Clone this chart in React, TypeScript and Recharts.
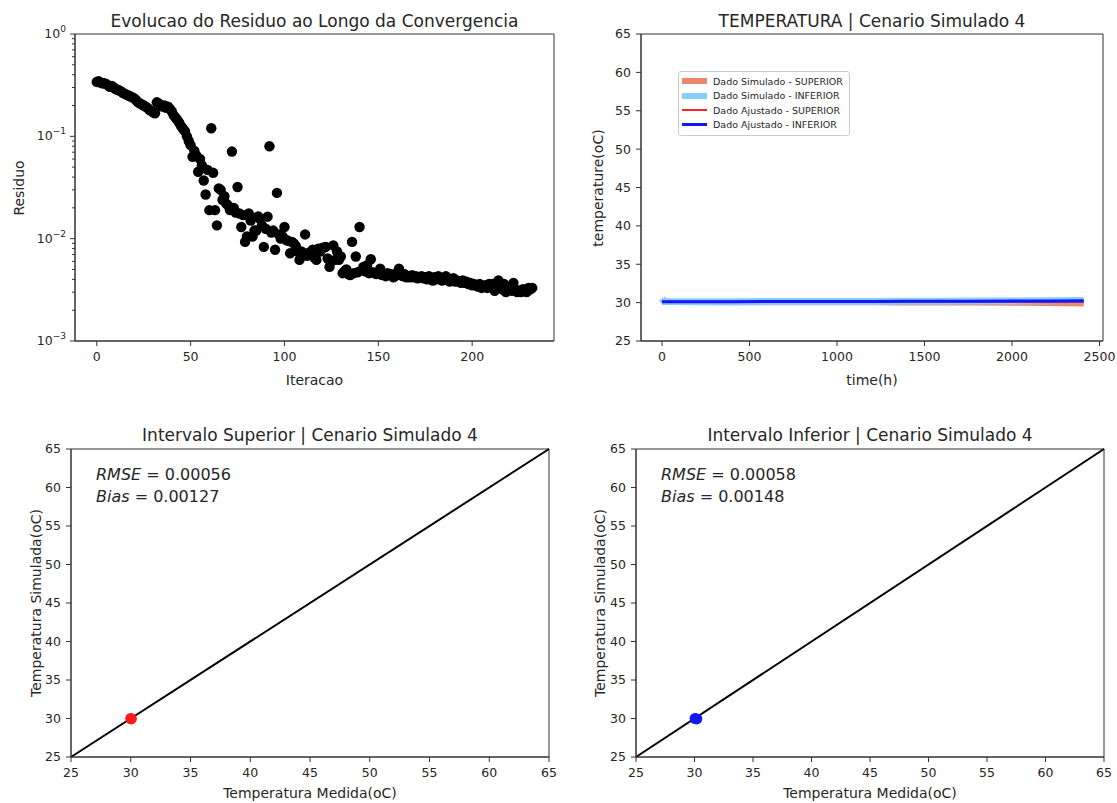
import {
  Legend,
  Line,
  LineChart,
  ReferenceArea,
  ReferenceLine,
  Scatter,
  ScatterChart,
  XAxis,
  YAxis,
} from "recharts";

const FONT = "'DejaVu Sans', 'Liberation Sans', sans-serif";
const INK = "#262626";
const AXIS = "#333333";

// residual per iteration (iteration 0 .. 232)
const residuals = [
  0.34, 0.345, 0.335, 0.33, 0.33, 0.325, 0.315, 0.305, 0.31, 0.3, 0.29,
  0.285, 0.28, 0.275, 0.265, 0.26, 0.255, 0.25, 0.245, 0.24, 0.235,
  0.225, 0.215, 0.21, 0.205, 0.2, 0.195, 0.19, 0.182, 0.178, 0.172,
  0.168, 0.215, 0.21, 0.2, 0.195, 0.2, 0.19, 0.195, 0.185, 0.175,
  0.16, 0.152, 0.144, 0.135, 0.125, 0.118, 0.112, 0.1, 0.09, 0.082,
  0.063, 0.072, 0.065, 0.045, 0.06, 0.052, 0.037, 0.027, 0.047, 0.019,
  0.12, 0.044, 0.019, 0.0135, 0.031, 0.03, 0.024, 0.026, 0.022, 0.021,
  0.019, 0.071, 0.02, 0.018, 0.032, 0.0176, 0.013, 0.017, 0.0093, 0.0105,
  0.0176, 0.015, 0.0105, 0.012, 0.012, 0.0165, 0.0155, 0.0135, 0.0083, 0.0125,
  0.0164, 0.08, 0.0115, 0.012, 0.0078, 0.028, 0.011, 0.01, 0.0105, 0.013,
  0.0097, 0.0095, 0.0072, 0.0093, 0.009, 0.0085, 0.0075, 0.0062, 0.0075, 0.0072,
  0.011, 0.0068, 0.0073, 0.007, 0.0078, 0.0065, 0.0062, 0.008, 0.0075, 0.0081,
  0.0082, 0.0083, 0.0064, 0.0053, 0.006, 0.0086, 0.0062, 0.0075, 0.0062, 0.0067,
  0.0046, 0.0048, 0.005, 0.0045, 0.0044, 0.0093, 0.0046, 0.0067, 0.0047, 0.013,
  0.0049, 0.0053, 0.0048, 0.0055, 0.0046, 0.0063, 0.0047, 0.0046, 0.0045, 0.0046,
  0.0051, 0.0044, 0.0045, 0.0043, 0.0046, 0.0044, 0.0045, 0.0042, 0.0043, 0.0046,
  0.0051, 0.0044, 0.0043, 0.0045, 0.0042, 0.0043, 0.0042, 0.0044, 0.0042, 0.0043,
  0.0041, 0.0042, 0.0043, 0.0041, 0.0042, 0.004, 0.0043, 0.0041, 0.0039, 0.0042,
  0.004, 0.0043, 0.0041, 0.0039, 0.004, 0.0043, 0.004, 0.0038, 0.0039, 0.0041,
  0.0038, 0.0039, 0.0038, 0.0037, 0.0039, 0.0037, 0.0038, 0.0036, 0.0037, 0.0035,
  0.0036, 0.0035, 0.0034, 0.0036, 0.0033, 0.0034, 0.0035, 0.0033, 0.0036, 0.0034,
  0.0036, 0.0031, 0.0035, 0.0039, 0.0033, 0.0032, 0.0036, 0.003, 0.0034, 0.0033,
  0.0031, 0.0037, 0.0032, 0.003, 0.0031, 0.003, 0.0032, 0.0031, 0.003, 0.0033, 0.0032, 0.0033,
];
const iterTicks = [0, 50, 100, 150, 200];
const residualTicks = [
  0.001, 0.002, 0.003, 0.004, 0.005, 0.006, 0.007, 0.008, 0.009,
  0.01, 0.02, 0.03, 0.04, 0.05, 0.06, 0.07, 0.08, 0.09,
  0.1, 0.2, 0.3, 0.4, 0.5, 0.6, 0.7, 0.8, 0.9, 1,
];

// temperature time series (hours)
const timeHours = [0, 6, 12, 24, 200, 400, 600, 800, 1000, 1200, 1400, 1600, 1800, 2000, 2200, 2410];
const simSuperior = [30.1, 30.1, 30.08, 30.07, 30.07, 30.06, 30.06, 30.05, 30.05, 30.04, 30.03, 30.02, 30.0, 29.98, 29.95, 29.9];
const simInferior = [30.55, 30.35, 30.18, 30.14, 30.13, 30.13, 30.14, 30.14, 30.15, 30.16, 30.17, 30.18, 30.2, 30.22, 30.24, 30.28];
const adjSuperior = [30.1, 30.1, 30.1, 30.1, 30.1, 30.1, 30.1, 30.1, 30.1, 30.1, 30.1, 30.1, 30.1, 30.08, 30.06, 30.05];
const adjInferior = [30.12, 30.12, 30.12, 30.12, 30.13, 30.13, 30.14, 30.14, 30.15, 30.16, 30.17, 30.18, 30.19, 30.2, 30.22, 30.25];
const timeTicks = [0, 500, 1000, 1500, 2000, 2500];
const tempTicks = [25, 30, 35, 40, 45, 50, 55, 60, 65];

// measured vs simulated
const supMedida = [30.0, 30.05];
const supSimulada = [30.0, 29.95];
const infMedida = [30.05, 30.2];
const infSimulada = [30.0, 29.95];
const identity = [25, 65];

const tempSeries = [
  { key: "simSup", name: "Dado Simulado - SUPERIOR", color: "#E8896B", width: 6 },
  { key: "simInf", name: "Dado Simulado - INFERIOR", color: "#87CEFA", width: 7 },
  { key: "adjSup", name: "Dado Ajustado - SUPERIOR", color: "#FF2020", width: 2 },
  { key: "adjInf", name: "Dado Ajustado - INFERIOR", color: "#1515FF", width: 3 },
];

const residualPoints = residuals.map((r, i) => ({ iter: i, res: r }));
const tempRows = timeHours.map((t, i) => ({
  t,
  simSup: simSuperior[i],
  simInf: simInferior[i],
  adjSup: adjSuperior[i],
  adjInf: adjInferior[i],
}));

const tickStyle = { fontSize: 12.5, fill: INK, fontFamily: FONT };

// log axis tick: long tick + 10^n label on decades, short tick otherwise
const LogTick = (props: any) => {
  const { x, y, payload } = props;
  const axisX = x + 5 + 4; // tickSize + tickMargin
  const lg = Math.log10(payload.value);
  const exp = Math.round(lg);
  const major = Math.abs(lg - exp) < 1e-6;
  return (
    <g>
      <line x1={axisX - (major ? 5 : 3)} x2={axisX} y1={y} y2={y} stroke={AXIS} />
      {major && (
        <text x={x} y={y} dy={4} textAnchor="end" fontSize={12.5} fill={INK} fontFamily={FONT}>
          10
          <tspan dy={-6} fontSize={9}>
            {exp === 0 ? "0" : `\u2212${-exp}`}
          </tspan>
        </text>
      )}
    </g>
  );
};

const dot = (color: string, r: number) => (p: any) => (
  <circle cx={p.cx} cy={p.cy} r={r} fill={color} />
);

const TempLegend = () => (
  <div
    style={{
      border: "1px solid #cccccc",
      borderRadius: 3,
      background: "rgba(255,255,255,0.85)",
      padding: "2px 6px 3px 3px",
      fontFamily: FONT,
      fontSize: 9.5,
      color: INK,
    }}
  >
    {tempSeries.map((s) => (
      <div key={s.key} style={{ display: "flex", alignItems: "center", height: 14.5 }}>
        <div style={{ width: 25, height: Math.min(s.width, 6), background: s.color, marginRight: 6 }} />
        <span style={{ whiteSpace: "nowrap" }}>{s.name}</span>
      </div>
    ))}
  </div>
);

const ParityChart = ({
  measured,
  simulated,
  color,
  width,
  yWidth,
  right,
}: {
  measured: number[];
  simulated: number[];
  color: string;
  width: number;
  yWidth: number;
  right: number;
}) => {
  const pts = measured.map((m, i) => ({ m, s: simulated[i] }));
  return (
    <ScatterChart width={width} height={403} margin={{ top: 49, right, bottom: 16, left: 0 }}>
      <XAxis
        type="number"
        dataKey="m"
        domain={[25, 65]}
        ticks={tempTicks}
        interval={0}
        height={30}
        tickSize={5}
        tickMargin={6}
        tick={tickStyle}
        axisLine={{ stroke: AXIS }}
        tickLine={{ stroke: AXIS }}
      />
      <YAxis
        type="number"
        dataKey="s"
        domain={[25, 65]}
        ticks={tempTicks}
        interval={0}
        width={yWidth}
        tickSize={5}
        tickMargin={5}
        tick={tickStyle}
        axisLine={{ stroke: AXIS }}
        tickLine={{ stroke: AXIS }}
      />
      <ReferenceArea x1={25} x2={65} y1={25} y2={65} fill="none" stroke={AXIS} />
      <ReferenceLine
        segment={[
          { x: identity[0], y: identity[0] },
          { x: identity[1], y: identity[1] },
        ]}
        stroke="#000"
        strokeWidth={2}
      />
      <Scatter data={pts} shape={dot(color, 5.5)} isAnimationActive={false} />
    </ScatterChart>
  );
};

const App = () => {
  return (
    <div
      style={{
        position: "absolute",
        left: 0,
        top: 0,
        width: 1117,
        height: 803,
        background: "#fff",
        fontFamily: FONT,
      }}
    >
      <div style={{ position: "absolute", left: 0, top: 0 }}>
        <ScatterChart width={560} height={380} margin={{ top: 34, right: 6, bottom: 9, left: 0 }}>
          <XAxis
            type="number"
            dataKey="iter"
            domain={[-11.6, 243.6]}
            ticks={iterTicks}
            allowDataOverflow
            height={30}
            tickSize={5}
            tickMargin={6}
            tick={tickStyle}
            axisLine={{ stroke: AXIS }}
            tickLine={{ stroke: AXIS }}
          />
          <YAxis
            type="number"
            dataKey="res"
            scale="log"
            domain={[0.001, 1]}
            ticks={residualTicks}
            interval={0}
            allowDataOverflow
            width={75}
            tickSize={5}
            tickMargin={4}
            tickLine={false}
            axisLine={{ stroke: AXIS }}
            tick={<LogTick />}
          />
          <ReferenceArea x1={-11.6} x2={243.6} y1={0.001} y2={1} fill="none" stroke={AXIS} />
          <Scatter data={residualPoints} shape={dot("#000", 5.2)} isAnimationActive={false} />
        </ScatterChart>
      </div>

      <div style={{ position: "absolute", left: 560, top: 0 }}>
        <LineChart width={557} height={380} data={tempRows} margin={{ top: 34, right: 14, bottom: 9, left: 0 }}>
          <XAxis
            type="number"
            dataKey="t"
            domain={[-120, 2520]}
            ticks={timeTicks}
            allowDataOverflow
            height={30}
            tickSize={5}
            tickMargin={6}
            tick={tickStyle}
            axisLine={{ stroke: AXIS }}
            tickLine={{ stroke: AXIS }}
          />
          <YAxis
            type="number"
            domain={[25, 65]}
            ticks={tempTicks}
            interval={0}
            width={81}
            tickSize={5}
            tickMargin={5}
            tick={tickStyle}
            axisLine={{ stroke: AXIS }}
            tickLine={{ stroke: AXIS }}
          />
          <ReferenceArea x1={-120} x2={2520} y1={25} y2={65} fill="none" stroke={AXIS} />
          {tempSeries.map((s) => (
            <Line
              key={s.key}
              dataKey={s.key}
              name={s.name}
              stroke={s.color}
              strokeWidth={s.width}
              dot={false}
              isAnimationActive={false}
            />
          ))}
          <Legend
            layout="vertical"
            align="center"
            verticalAlign="middle"
            content={<TempLegend />}
            wrapperStyle={{ left: 118, top: 71, width: "auto", height: "auto" }}
          />
        </LineChart>
      </div>

      <div style={{ position: "absolute", left: 0, top: 400 }}>
        <ParityChart measured={supMedida} simulated={supSimulada} color="#FF1A1A" width={560} yWidth={71} right={11} />
      </div>
      <div style={{ position: "absolute", left: 560, top: 400 }}>
        <ParityChart measured={infMedida} simulated={infSimulada} color="#1515EE" width={557} yWidth={76} right={13} />
      </div>

      <svg
        width={1117}
        height={803}
        style={{ position: "absolute", left: 0, top: 0, pointerEvents: "none" }}
        fontFamily={FONT}
        fill={INK}
      >
        <text x={314.5} y={27} fontSize={17} textAnchor="middle">
          Evolucao do Residuo ao Longo da Convergencia
        </text>
        <text x={872} y={27} fontSize={17} textAnchor="middle">
          TEMPERATURA | Cenario Simulado 4
        </text>
        <text x={310} y={441} fontSize={17} textAnchor="middle">
          Intervalo Superior | Cenario Simulado 4
        </text>
        <text x={870} y={441} fontSize={17} textAnchor="middle">
          Intervalo Inferior | Cenario Simulado 4
        </text>

        <text x={314.5} y={385} fontSize={14} textAnchor="middle">Iteracao</text>
        <text x={872} y={385} fontSize={14} textAnchor="middle">time(h)</text>
        <text x={310} y={798} fontSize={14} textAnchor="middle">Temperatura Medida(oC)</text>
        <text x={870} y={798} fontSize={14} textAnchor="middle">Temperatura Medida(oC)</text>

        <text transform="translate(24,188) rotate(-90)" fontSize={14} textAnchor="middle">Residuo</text>
        <text transform="translate(603,188) rotate(-90)" fontSize={14} textAnchor="middle">temperature(oC)</text>
        <text transform="translate(41,603) rotate(-90)" fontSize={14} textAnchor="middle">Temperatura Simulada(oC)</text>
        <text transform="translate(605,603) rotate(-90)" fontSize={14} textAnchor="middle">Temperatura Simulada(oC)</text>

        <text x={96} y={480} fontSize={16}>
          <tspan fontStyle="italic">RMSE</tspan> = 0.00056
        </text>
        <text x={96} y={502} fontSize={16}>
          <tspan fontStyle="italic">Bias</tspan> = 0.00127
        </text>
        <text x={661} y={480} fontSize={16}>
          <tspan fontStyle="italic">RMSE</tspan> = 0.00058
        </text>
        <text x={661} y={502} fontSize={16}>
          <tspan fontStyle="italic">Bias</tspan> = 0.00148
        </text>
      </svg>
    </div>
  );
};

export default App;
